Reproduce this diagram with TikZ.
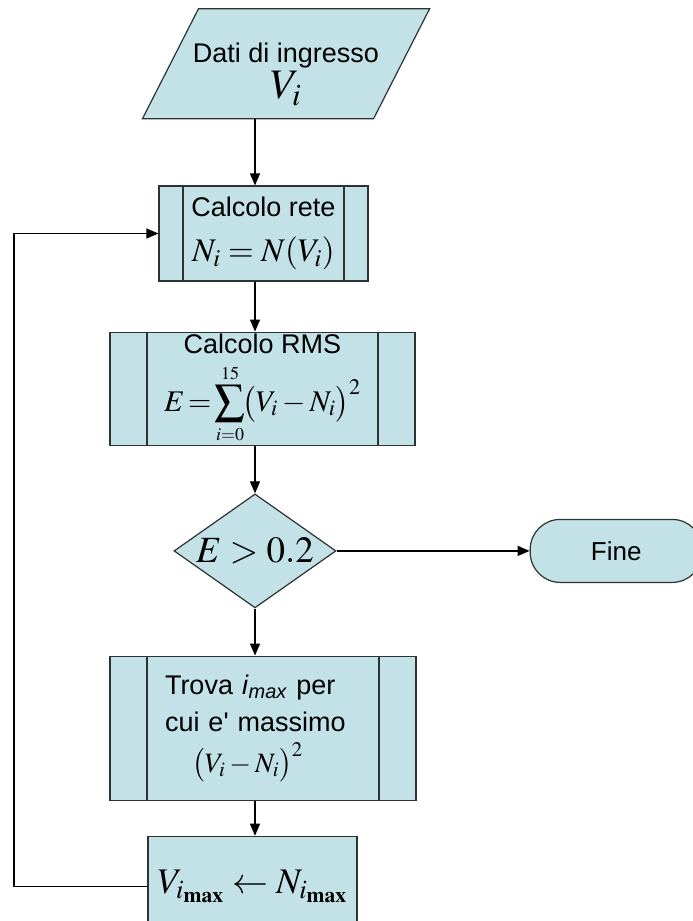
\documentclass[tikz,border=0pt]{standalone}
\usepackage{mathptmx}
\usepackage[no-math]{fontspec}
\setmainfont{Liberation Sans}
\usetikzlibrary{shapes.geometric,positioning,arrows.meta}

\definecolor{boxfill}{RGB}{194,226,232}
\definecolor{boxline}{RGB}{45,50,50}
\newcommand{\msize}[1]{\fontsize{#1}{#1}\selectfont}

\tikzset{
  box/.style={draw=boxline, fill=boxfill, line width=1.2pt, inner sep=2pt,
    align=center, font=\fontsize{27}{35}\selectfont},
  proc/.style={box, rectangle, path picture={
      \draw[boxline, line width=1.2pt]
        ([xshift=#1]path picture bounding box.north west) -- ([xshift=#1]path picture bounding box.south west)
        ([xshift=-#1]path picture bounding box.north east) -- ([xshift=-#1]path picture bounding box.south east);}},
  io/.style={box, trapezium, trapezium left angle=63, trapezium right angle=117,
    trapezium stretches body=true, inner xsep=-5.5pt},
  decision/.style={box, diamond, minimum width=162pt, minimum height=114pt, inner sep=-12pt},
  term/.style={box, rounded corners=30pt, minimum width=172pt, minimum height=63pt,
    font=\fontsize{26}{30}\selectfont},
}

\begin{document}
\begin{tikzpicture}[x=1pt, y=1pt, >={Triangle[length=12pt,width=10pt]}, line width=1.3pt]
  \useasboundingbox (0,0) rectangle (693,-921);

  \node[proc=24pt, minimum width=209pt, minimum height=95pt] (b1) at (263.5,-233.5)
    {Calcolo rete\\[10pt] {\msize{33}$N_i=N(V_i)$}};
  \node[io, above=66pt of b1, xshift=22.5pt] (para)
    {\rule{0pt}{52pt}Dati di ingresso\\[1pt] {\msize{42}$V_i$}\rule[-18pt]{0pt}{18pt}};
  \node[proc=37pt, minimum width=305pt, minimum height=112pt, below=50pt of b1, xshift=-1pt] (b2)
    {Calcolo RMS\\[9pt] {\msize{30}$\displaystyle E\!=\!\sum\limits_{\scriptscriptstyle i=0}^{\scriptscriptstyle 15}\!\bigl(V_i-N_i\bigr)^2$}};
  \node[decision, below=47pt of b2, xshift=-7.5pt] (dia) {\msize{37}$E>0.2$};
  \node[term, right=193pt of dia] (fine) {Fine};
  \node[proc=37pt, minimum width=306pt, minimum height=144pt, below=47pt of dia, xshift=8pt,
      align=left, text width=196pt] (b4)
    {Trova \textit{i}\textsubscript{\textit{max}} per\\[2pt]
     cui e\textquotesingle\ massimo\\[6pt]
     \hspace*{1em}{\msize{28}$\bigl(V_i-N_i\bigr)^2$}};
  \node[box, minimum width=209pt, minimum height=100pt, below=35pt of b4, xshift=-10.5pt] (b5)
    {\msize{36}$V_{i_{\mathbf{max}}}\leftarrow N_{i_{\mathbf{max}}}$};
  \coordinate (loop) at (14,-550);

  \draw[->] (para.south -| dia) -- (b1.north -| dia);
  \draw[->] (b1.south -| dia) -- (b2.north -| dia);
  \draw[->] (b2.south -| dia) -- (dia.north);
  \draw[->] (dia.east) -- (fine.west);
  \draw[->] (dia.south) -- (b4.north -| dia);
  \draw[->] (b4.south -| dia) -- (b5.north -| dia);
  \draw[->] (b5.west) -| (loop) |- (b1.west);
\end{tikzpicture}
\end{document}
